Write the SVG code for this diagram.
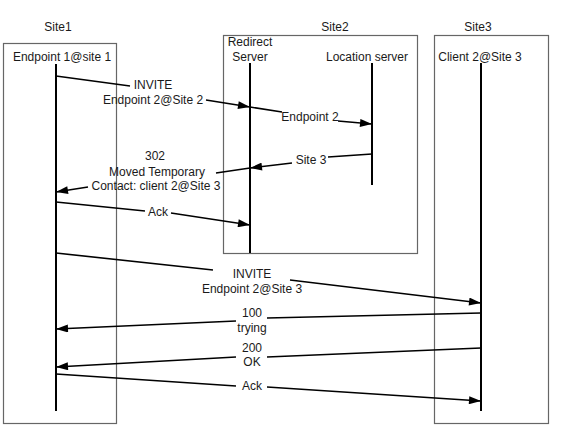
<svg xmlns="http://www.w3.org/2000/svg" width="573" height="443" viewBox="0 0 573 443">
<defs>
<style>
text{font-family:"Liberation Sans",Arial,sans-serif;font-size:12px;fill:#1a1a1a;text-anchor:middle}
.box{fill:none;stroke:#666;stroke-width:1.2}
.life{stroke:#000;stroke-width:2}
.msg{fill:none;stroke:#000;stroke-width:1.6}
</style>
<marker id="ah" viewBox="0 0 12 8" refX="12" refY="4" markerWidth="13" markerHeight="8" markerUnits="userSpaceOnUse" orient="auto">
<path d="M0,0 L12,4 L0,8 Z" fill="#000"/>
</marker>
</defs>
<rect width="573" height="443" fill="#fff"/>
<g id="site1">
<text x="58" y="31">Site1</text>
<rect class="box" x="3.5" y="43.5" width="113" height="380"/>
</g>
<g id="site2">
<text x="335" y="31">Site2</text>
<rect class="box" x="223.5" y="35.5" width="194" height="218"/>
</g>
<g id="site3">
<text x="478" y="31">Site3</text>
<rect class="box" x="434.5" y="35.5" width="114" height="388"/>
</g>
<g id="endpoint1">
<text x="62" y="61">Endpoint 1@site 1</text>
<line class="life" x1="56" y1="64" x2="56" y2="411"/>
</g>
<g id="redirect">
<text x="250" y="46">Redirect</text>
<text x="250" y="61">Server</text>
<line class="life" x1="250" y1="63" x2="250" y2="253"/>
</g>
<g id="location">
<text x="367" y="61">Location server</text>
<line class="life" x1="372" y1="63" x2="372" y2="185"/>
</g>
<g id="client2">
<text x="480" y="61">Client 2@Site 3</text>
<line class="life" x1="481" y1="63" x2="481" y2="411"/>
</g>
<g id="connectors">
<path class="msg" marker-end="url(#ah)" d="M56,76 L130,86 M206,100 L250,107"/>
<text x="153" y="89">INVITE</text>
<text x="153" y="104">Endpoint 2@Site 2</text>
<path class="msg" marker-end="url(#ah)" d="M250,107 L282,112 M338,121 L372,124"/>
<text x="310" y="121">Endpoint 2</text>
<path class="msg" marker-end="url(#ah)" d="M372,154 L328,157 M292,163 L250,168"/>
<text x="311" y="164">Site 3</text>
<path class="msg" marker-end="url(#ah)" d="M250,168 L216,173 M88,187 L56,192"/>
<text x="155" y="160">302</text>
<text x="157" y="176">Moved Temporary</text>
<text x="156" y="190">Contact: client 2@Site 3</text>
<path class="msg" marker-end="url(#ah)" d="M56,202 L145,211 M171,213 L250,225"/>
<text x="158" y="216">Ack</text>
<path class="msg" marker-end="url(#ah)" d="M56,253 L213,270 M290,280 L481,303"/>
<text x="252" y="278">INVITE</text>
<text x="252" y="293">Endpoint 2@Site 3</text>
<path class="msg" marker-end="url(#ah)" d="M481,313 L267,318 M236,321 L56,329"/>
<text x="252" y="317">100</text>
<text x="252" y="332">trying</text>
<path class="msg" marker-end="url(#ah)" d="M481,348 L267,357 M236,357 L56,367"/>
<text x="252" y="352">200</text>
<text x="252" y="366">OK</text>
<path class="msg" marker-end="url(#ah)" d="M56,374 L236,386 M267,387 L481,401"/>
<text x="252" y="390">Ack</text>
</g>
</svg>
